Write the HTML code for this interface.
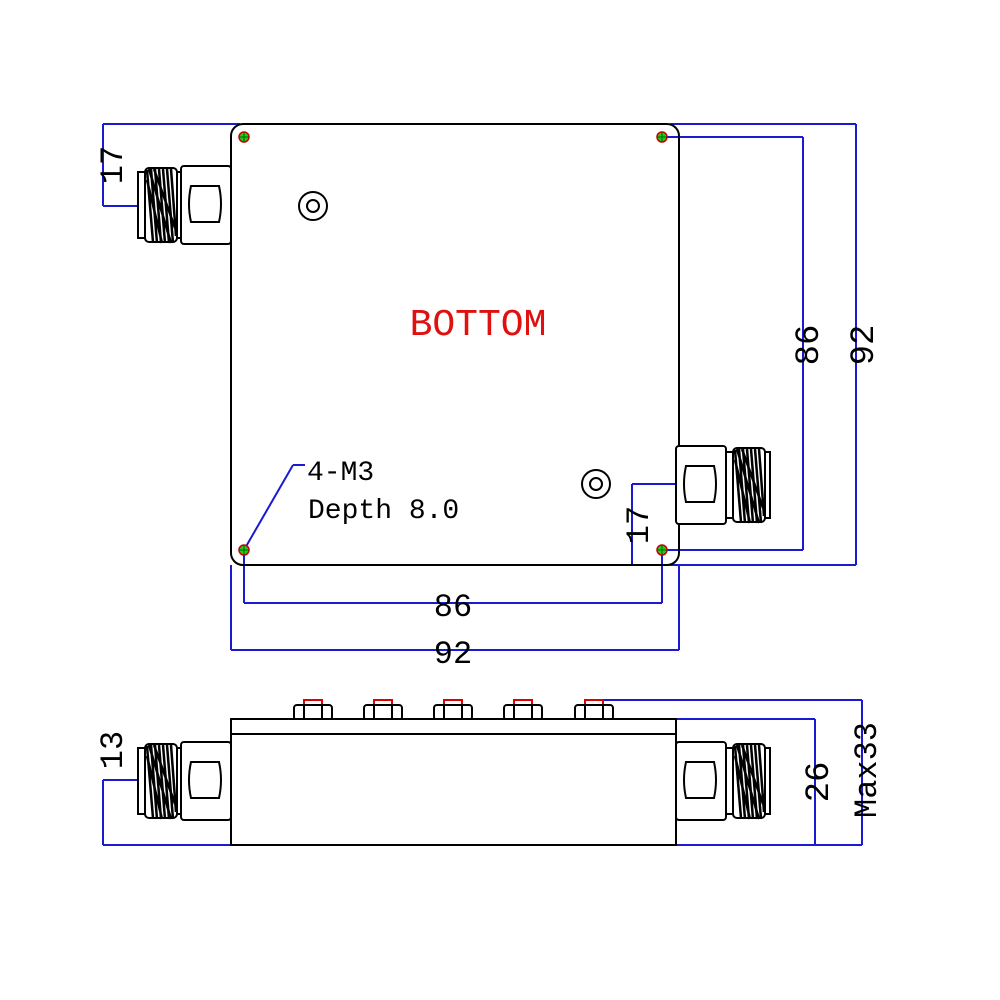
<!DOCTYPE html>
<html><head><meta charset="utf-8"><style>html,body{margin:0;padding:0;background:#fff}svg{display:block}</style></head><body>
<svg width="1000" height="1000" viewBox="0 0 1000 1000" xmlns="http://www.w3.org/2000/svg">
<defs>
<g id="thread" stroke="#000" fill="none" stroke-width="2">
  <rect x="0" y="6" width="44" height="66" fill="#fff"/>
  <rect x="7" y="2" width="32" height="74" rx="4" fill="#fff"/>
  <path d="M9 4 L15 76 M13 3 L19 77 M17 3 L23 77 M21 3 L27 77 M25 3 L31 77 M29 3 L35 77 M33 3 L38 70 M11 3 L33 77 M16 3 L37 62 M9 14 L24 77" stroke-width="2.5"/>
</g>
<g id="flange" stroke="#000" fill="#fff" stroke-width="2">
  <rect x="0" y="0" width="50" height="78" rx="3"/>
  <path d="M10 20 H38 Q42 38 38 56 H10 Q6 38 10 20 Z"/>
</g>
<g id="bolt" stroke="#000" fill="#fff" stroke-width="2">
  <rect x="-9" y="700" width="18" height="8" stroke="#d00"/>
  <rect x="-19" y="705" width="38" height="15" rx="3"/>
  <line x1="-9" y1="705" x2="-9" y2="720"/><line x1="9" y1="705" x2="9" y2="720"/>
</g>
<g id="hole"><circle r="5" fill="#2c2" stroke="#c00" stroke-width="1.5"/><path d="M-5 0H5M0 -5V5" stroke="#060" stroke-width="1"/></g>
</defs>
<g stroke="#1a1ad0" stroke-width="2" fill="none">
  <line x1="103" y1="124" x2="240" y2="124"/>
  <line x1="103" y1="124" x2="103" y2="206"/><line x1="103" y1="206" x2="138" y2="206"/>
  <line x1="662" y1="137" x2="803" y2="137"/><line x1="662" y1="550" x2="803" y2="550"/>
  <line x1="803" y1="137" x2="803" y2="550"/>
  <line x1="670" y1="124" x2="856" y2="124"/><line x1="670" y1="565" x2="856" y2="565"/>
  <line x1="856" y1="124" x2="856" y2="565"/>
  <line x1="632" y1="484" x2="676" y2="484"/><line x1="632" y1="484" x2="632" y2="565"/>
  <line x1="244" y1="550" x2="244" y2="603"/><line x1="662" y1="550" x2="662" y2="603"/>
  <line x1="244" y1="603" x2="662" y2="603"/>
  <line x1="231" y1="565" x2="231" y2="650"/><line x1="679" y1="565" x2="679" y2="650"/>
  <line x1="231" y1="650" x2="679" y2="650"/>
  <line x1="244" y1="550" x2="293" y2="465"/><line x1="293" y1="465" x2="305" y2="465"/>
  <line x1="103" y1="845" x2="231" y2="845"/><line x1="103" y1="780" x2="103" y2="845"/><line x1="103" y1="780" x2="138" y2="780"/>
  <line x1="676" y1="845" x2="862" y2="845"/>
  <line x1="676" y1="719" x2="815" y2="719"/><line x1="815" y1="719" x2="815" y2="845"/>
  <line x1="600" y1="700" x2="862" y2="700"/><line x1="862" y1="700" x2="862" y2="845"/>
</g>
<rect x="231" y="124" width="448" height="441" rx="12" fill="none" stroke="#000" stroke-width="2"/>
<use href="#hole" x="244" y="137"/><use href="#hole" x="662" y="137"/><use href="#hole" x="244" y="550"/><use href="#hole" x="662" y="550"/>
<g fill="none" stroke="#000" stroke-width="2"><circle cx="313" cy="206" r="14"/><circle cx="313" cy="206" r="6"/><circle cx="596" cy="484" r="14"/><circle cx="596" cy="484" r="6"/></g>
<use href="#thread" x="138" y="166"/><use href="#flange" x="181" y="166"/>
<use href="#flange" x="676" y="446"/><use href="#thread" x="726" y="446"/>
<text x="478" y="335" font-family="Liberation Mono, monospace" font-size="38" fill="#e01010" text-anchor="middle">BOTTOM</text>
<g font-family="Liberation Mono, monospace" fill="#000">
<text x="307" y="480" font-size="28">4-M3</text>
<text x="308" y="518" font-size="28">Depth 8.0</text>
<text x="453" y="616" font-size="32" text-anchor="middle">86</text>
<text x="453" y="663" font-size="32" text-anchor="middle">92</text>
<text transform="translate(122,165) rotate(-90)" font-size="32" text-anchor="middle">17</text>
<text transform="translate(648,525) rotate(-90)" font-size="32" text-anchor="middle">17</text>
<text transform="translate(818,345) rotate(-90)" font-size="34" text-anchor="middle">86</text>
<text transform="translate(873,345) rotate(-90)" font-size="34" text-anchor="middle">92</text>
<text transform="translate(122,750) rotate(-90)" font-size="32" text-anchor="middle">13</text>
<text transform="translate(828,782) rotate(-90)" font-size="34" text-anchor="middle">26</text>
<text transform="translate(876,770) rotate(-90)" font-size="32" text-anchor="middle">Max33</text>
</g>
<use href="#bolt" x="313"/><use href="#bolt" x="383"/><use href="#bolt" x="453"/><use href="#bolt" x="523"/><use href="#bolt" x="594"/>
<rect x="231" y="719" width="445" height="126" fill="#fff" stroke="#000" stroke-width="2"/>
<line x1="231" y1="734" x2="676" y2="734" stroke="#000" stroke-width="2"/>
<use href="#thread" x="138" y="742"/><use href="#flange" x="181" y="742"/>
<use href="#flange" x="676" y="742"/><use href="#thread" x="726" y="742"/>
</svg>
</body></html>
